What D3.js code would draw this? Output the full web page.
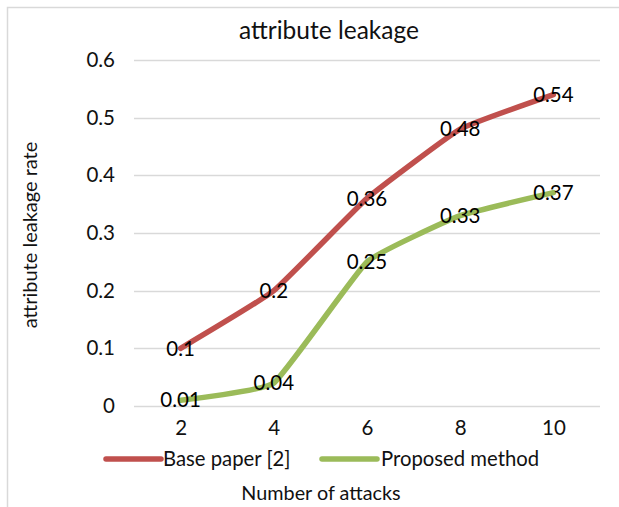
<!DOCTYPE html>
<html><head><meta charset="utf-8">
<script src="https://cdn.jsdelivr.net/npm/d3@7"></script>
<style>body{margin:0;background:#fff;} svg{display:block;font-family:Lato,"Open Sans",sans-serif;}</style>
</head><body>
<svg id="c" width="619" height="507"></svg>
<script>
const title = "attribute leakage";
const xTitle = "Number of attacks";
const yTitle = "attribute leakage rate";
const categories = ["2","4","6","8","10"];
const seriesNames = ["Base paper [2]","Proposed method"];
const baseValues = [0.1,0.2,0.36,0.48,0.54];
const proposedValues = [0.01,0.04,0.25,0.33,0.37];
const yTicks = [0,0.1,0.2,0.3,0.4,0.5,0.6];
const colors = ["#C0504D","#9BBB59"];

const series = [
  {name: seriesNames[0], values: baseValues, color: colors[0]},
  {name: seriesNames[1], values: proposedValues, color: colors[1]}
];

const svg = d3.select("#c");
svg.append("rect").attr("x",7.5).attr("y",7.5).attr("width",700).attr("height",700)
  .attr("fill","#fff").attr("stroke","#d9d9d9").attr("stroke-width",1.5);

const x = d3.scalePoint().domain(categories).range([134,600]).padding(0.5);
const y = d3.scaleLinear().domain([0,0.6]).range([406,60]);

// gridlines
svg.append("g").selectAll("line").data(yTicks).join("line")
  .attr("x1",134).attr("x2",600)
  .attr("y1",d=>Math.round(y(d))+0.5).attr("y2",d=>Math.round(y(d))+0.5)
  .attr("stroke","#d9d9d9").attr("stroke-width",1.5);

// y axis labels
const yAxis = d3.axisLeft(y).tickValues(yTicks).tickFormat(d=>d===0?"0":d3.format(".1f")(d)).tickSize(0).tickPadding(0);
const gy = svg.append("g").attr("transform","translate(115,0)").call(yAxis);
gy.select(".domain").remove();
gy.selectAll("text").attr("font-size",20.5).attr("fill","#111").attr("font-family","Lato");

// x axis labels
const xAxis = d3.axisBottom(x).tickSize(0).tickPadding(0);
const gx = svg.append("g").attr("transform","translate(0,420)").call(xAxis);
gx.select(".domain").remove();
gx.selectAll("text").attr("font-size",20.5).attr("fill","#111").attr("font-family","Lato");

// lines
const line = d3.line().x((d,i)=>x(categories[i])).y(d=>y(d)).curve(d3.curveCardinal.tension(0.65));
svg.append("g").selectAll("path").data(series).join("path")
  .attr("d",d=>line(d.values)).attr("fill","none").attr("stroke",d=>d.color)
  .attr("stroke-width",5.5).attr("stroke-linecap","round").attr("stroke-linejoin","round");

// data labels
series.forEach(s=>{
  svg.append("g").selectAll("text").data(s.values).join("text")
    .attr("x",(d,i)=>x(categories[i])).attr("y",d=>y(d)).attr("dy","0.35em")
    .attr("text-anchor","middle").attr("font-size",20.5).attr("fill","#000")
    .text(d=>String(d));
});

// title
svg.append("text").attr("x",329).attr("y",39).attr("text-anchor","middle")
  .attr("font-size",24.5).attr("fill","#111").text(title);

// x title
svg.append("text").attr("x",321).attr("y",500).attr("text-anchor","middle")
  .attr("font-size",19.8).attr("fill","#111").text(xTitle);

// y title
svg.append("text").attr("transform","translate(37,235) rotate(-90)").attr("text-anchor","middle")
  .attr("font-size",20).attr("fill","#111").text(yTitle);

// legend
const legendPos = [{lx:106, tx:163},{lx:322, tx:381}];
series.forEach((s,i)=>{
  const p = legendPos[i];
  svg.append("line").attr("x1",p.lx).attr("x2",p.lx+55).attr("y1",459).attr("y2",459)
    .attr("stroke",s.color).attr("stroke-width",5.5).attr("stroke-linecap","round");
  svg.append("text").attr("x",p.tx).attr("y",466).attr("font-size",20.3).attr("fill","#111").text(s.name);
});
</script>
</body></html>
